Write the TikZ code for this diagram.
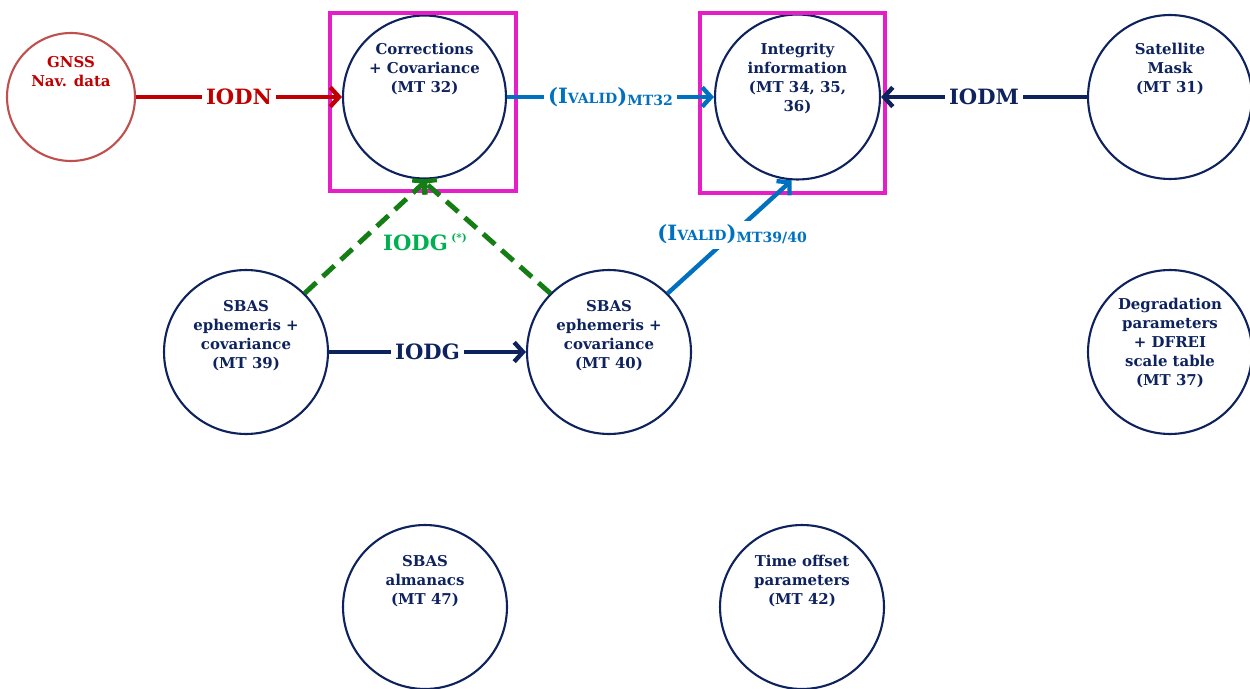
\documentclass[tikz,border=0pt]{standalone}
\usepackage{fontspec}
\setmainfont{DejaVu Serif}
\usetikzlibrary{arrows.meta}
\definecolor{navy}{RGB}{14,34,94}
\definecolor{darkred}{RGB}{192,0,0}
\definecolor{gnssred}{RGB}{192,80,77}
\definecolor{sbblue}{RGB}{0,112,192}
\definecolor{dgreen}{RGB}{20,125,20}
\definecolor{lgreen}{RGB}{0,176,80}
\definecolor{magenta2}{RGB}{230,30,200}
\tikzset{
  circ/.style={circle, draw=navy, line width=1.2pt, minimum size=3.28cm, inner sep=0pt},
  txt/.style={font=\bfseries\fontsize{8.5}{10.8}\selectfont, text=navy, align=center, inner sep=0pt, anchor=north},
  lab/.style={fill=white, font=\bfseries\fontsize{12}{14}\selectfont, inner sep=2.5pt},
  arr/.style={line width=2.5pt, -{Straight Barb[length=5pt,width=11pt,line width=2.5pt]}},
  frame/.style={draw=magenta2, line width=2.3pt}
}
\newcommand{\ivalid}[1]{(I{\fontsize{8}{9}\selectfont VALID})\raisebox{-1pt}{\fontsize{8}{9}\selectfont #1}}
\begin{document}
\begin{tikzpicture}[x=0.02cm,y=-0.02cm]
\useasboundingbox (0,0) rectangle (1250,689);
% circles
\node[circ, draw=gnssred, minimum size=2.56cm] (gnss) at (71,97) {};
\node[circ, minimum size=3.26cm] (corr) at (424.5,97) {};
\node[circ, minimum size=3.3cm] (integ) at (797.5,97) {};
\node[circ] (sat) at (1170,97) {};
\node[circ] (mt39) at (246,352) {};
\node[circ] (mt40) at (609,352) {};
\node[circ] (degr) at (1170,352) {};
\node[circ] (alm) at (425,607) {};
\node[circ] (toff) at (802,607) {};
% texts
\node[txt, text=darkred] (tgnss) at (71,56) {GNSS\\Nav. data};
\node[txt] (tcorr) at (424.5,43) {Corrections\\+ Covariance\\(MT 32)};
\node[txt] (tinteg) at (797.5,43) {Integrity\\information\\(MT 34, 35,\\36)};
\node[txt] (tsat) at (1170,43) {Satellite\\Mask\\(MT 31)};
\node[txt] (t39) at (246,300) {SBAS\\ephemeris +\\covariance\\(MT 39)};
\node[txt] (t40) at (609,300) {SBAS\\ephemeris +\\covariance\\(MT 40)};
\node[txt] (tdegr) at (1170,298) {Degradation\\parameters\\+ DFREI\\scale table\\(MT 37)};
\node[txt] (talm) at (425,555) {SBAS\\almanacs\\(MT 47)};
\node[txt] (ttoff) at (802,555) {Time offset\\parameters\\(MT 42)};
% frames
\draw[frame] (330,13) rectangle (516,191);
\draw[frame] (700,13) rectangle (885,193);
% connectors
\draw[arr, darkred] (gnss.east) -- node[lab, text=darkred] {IODN} (corr.west);
\draw[arr, sbblue] (corr.east) -- node[lab, text=sbblue] {\ivalid{MT32}} (integ.west);
\draw[arr, navy] (sat.west) -- node[lab, text=navy] {IODM} (integ.east);
\draw[arr, navy] (mt39.east) -- node[lab, text=navy] {IODG} (mt40.west);
\draw[arr, dgreen, line width=2.8pt, dashed, dash pattern=on 9pt off 5pt] (mt39.45) -- (corr.272);
\draw[arr, dgreen, line width=2.8pt, dashed, dash pattern=on 9pt off 5pt] (mt40.135) -- (corr.268);
\node[font=\bfseries\fontsize{12}{14}\selectfont, text=lgreen] (iodg2) at (425,242) {IODG\,\raisebox{5pt}{\fontsize{6}{7}\selectfont(*)}};
\draw[arr, sbblue] (mt40.45) -- node[lab, text=sbblue, pos=0.52] {\ivalid{MT39/40}} (integ.266);
\end{tikzpicture}
\end{document}
